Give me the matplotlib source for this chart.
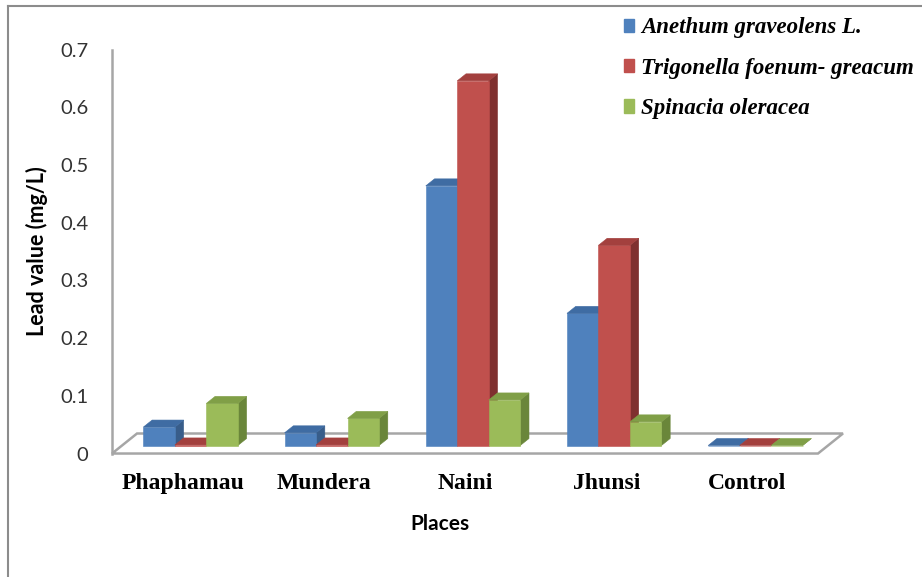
import numpy as np
import matplotlib
matplotlib.use("Agg")
import matplotlib.pyplot as plt
from matplotlib.patches import Polygon, Patch
from matplotlib.lines import Line2D

# ── Data: lead value (mg/L) by sampling place ─────────────────────
places = ["Phaphamau", "Mundera", "Naini", "Jhunsi", "Control"]
species = ["Anethum graveolens L.", "Trigonella foenum- greacum", "Spinacia oleracea"]
anethum = [0.032, 0.022, 0.450, 0.229, 0.0]
trigonella = [0.001, 0.001, 0.632, 0.347, 0.0]
spinacia = [0.073, 0.047, 0.079, 0.041, 0.0]
series = [anethum, trigonella, spinacia]

# front / top / side shades for the pseudo-3D columns
FRONT = ["#4F81BD", "#C0504D", "#9BBB59"]
TOP = ["#3F6CA3", "#A3403E", "#809F47"]
SIDE = ["#385D8A", "#7F302F", "#6A863A"]

# ── Pseudo-3D geometry (category units / value units) ─────────────
DEPTH_X = 0.177      # full floor depth, horizontal shift
DEPTH_Y = 0.0347     # full floor depth, vertical shift
BAR_D0, BAR_D1 = 0.40, 0.75   # bar slab inside the floor depth
BAR_W = 0.223

SANS = "Lato"
SERIF = "Liberation Serif"

fig = plt.figure(figsize=(9.22, 5.77), dpi=100)
ax = fig.add_axes([0.1215, 0.214, 0.7657, 0.700])
ax.set_xlim(-0.5, len(places) - 0.5)
ax.set_ylim(0, 0.7)

# floor
floor = Polygon([(-0.5, 0), (len(places) - 0.5, 0),
                 (len(places) - 0.5 + DEPTH_X, DEPTH_Y),
                 (-0.5 + DEPTH_X, DEPTH_Y)],
                closed=True, facecolor="white", edgecolor="#A6A6A6",
                linewidth=1.8, clip_on=False, zorder=1)
ax.add_patch(floor)


def draw_column(x0, v, k, z):
    ox0, oy0 = BAR_D0 * DEPTH_X, BAR_D0 * DEPTH_Y
    ox1, oy1 = BAR_D1 * DEPTH_X, BAR_D1 * DEPTH_Y
    dx, dy = ox1 - ox0, oy1 - oy0
    xl, xr = x0 + ox0 * 0.8, x0 + ox0 * 0.8 + BAR_W
    yb, yt = oy0, oy0 + v
    front = [(xl, yb), (xr, yb), (xr, yt), (xl, yt)]
    top = [(xl, yt), (xr, yt), (xr + dx, yt + dy), (xl + dx, yt + dy)]
    side = [(xr, yb), (xr + dx, yb + dy), (xr + dx, yt + dy), (xr, yt)]
    for pts, col in ((side, SIDE[k]), (front, FRONT[k]), (top, TOP[k])):
        ax.add_patch(Polygon(pts, closed=True, facecolor=col, edgecolor=col,
                             linewidth=0.4, clip_on=False, zorder=z))


z = 2
for i in range(len(places)):
    for k, vals in enumerate(series):
        x0 = i + (k - 1.5) * BAR_W
        draw_column(x0, vals[i], k, z)
        z += 1

# axes styling
for s in ("top", "right", "bottom"):
    ax.spines[s].set_visible(False)
ax.spines["left"].set_color("#A6A6A6")
ax.spines["left"].set_linewidth(1.8)
ax.spines["left"].set_zorder(0.5)

ax.set_yticks(np.arange(0, 0.71, 0.1))
ax.set_yticklabels(["0", "0.1", "0.2", "0.3", "0.4", "0.5", "0.6", "0.7"],
                   fontfamily=SANS, fontsize=14.5, color="#333333")
ax.set_xticks(range(len(places)))
ax.set_xticklabels(places, fontfamily=SERIF, fontweight="bold", fontsize=17)
ax.tick_params(axis="y", length=0, pad=17)
ax.tick_params(axis="x", length=0, pad=14)

ax.set_ylabel("Lead value (mg/L)", fontfamily=SANS, fontweight="bold",
              fontsize=15.5, labelpad=9)
ax.set_xlabel("Places", fontfamily=SANS, fontweight="bold", fontsize=15)
ax.xaxis.set_label_coords(0.464, -0.15)

# legend
handles = [Patch(facecolor=c, edgecolor=c) for c in FRONT]
leg = fig.legend(handles, species, loc="upper left",
                 bbox_to_anchor=(0.659, 0.998), frameon=False,
                 handlelength=0.45, handleheight=0.5, handletextpad=0.3,
                 labelspacing=0.85, borderaxespad=0.3,
                 prop={"family": SERIF, "weight": "bold", "style": "italic",
                       "size": 16.5})

# outer chart frame
fig.add_artist(Line2D([8 / 922, 8 / 922], [0, 1 - 6 / 577],
                      color="#8C8C8C", linewidth=1.5))
fig.add_artist(Line2D([8 / 922, 1], [1 - 6 / 577, 1 - 6 / 577],
                      color="#8C8C8C", linewidth=1.5))

fig.savefig("out.png", dpi=100)
